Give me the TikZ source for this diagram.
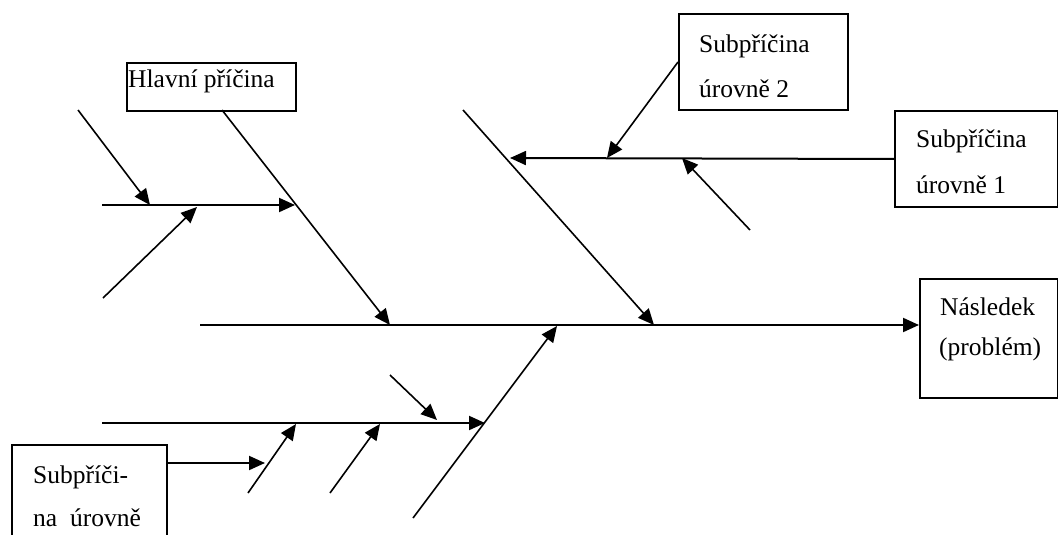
\documentclass[tikz,border=0pt]{standalone}
\usepackage{fontspec}
\setmainfont{Liberation Serif}
\usetikzlibrary{arrows.meta}
\begin{document}
\begin{tikzpicture}[x=1pt,y=-1pt,
  box/.style={draw,line width=2pt,inner sep=0pt,anchor=north west},
  lbl/.style={anchor=base west,inner sep=0pt,font=\fontsize{25.5}{30}\selectfont},
  bone/.style={line width=2pt},
  rib/.style={line width=1.6pt},
  tip/.style={-{Triangle[length=16pt,width=14pt]}}]
\useasboundingbox (0,0) rectangle (1058,535);
\fill[white] (0,0) rectangle (1058,535);

% boxes
\node[box,minimum width=169pt,minimum height=48pt] (hlavni) at (126,62) {};
\node[box,minimum width=169pt,minimum height=96pt] (sub2) at (678,13) {};
\node[box,minimum width=163pt,minimum height=96pt] (sub1) at (894,110) {};
\node[box,minimum width=138pt,minimum height=119pt] (nasl) at (919,278) {};
\node[box,minimum width=155pt,minimum height=110pt] (sub3) at (11,444) {};

% texts
\node[lbl] (thl) at (128,88) {Hlavní příčina};
\node[lbl] (ts2a) at (699,53) {Subpříčina};
\node[lbl] (ts2b) at (699,97) {úrovně 2};
\node[lbl] (ts1a) at (916,147) {Subpříčina};
\node[lbl] (ts1b) at (916,193) {úrovně 1};
\node[lbl] (tna) at (940,315) {Následek};
\node[lbl] (tnb) at (939,355) {(problém)};
\node[lbl] (ts3a) at (33,483) {Subpříči-};
\node[lbl] (ts3b) at (33,526) {na\ \ úrovně};

% points
\coordinate (spine0) at (200,325);
\coordinate (h0) at (222,110);
\coordinate (h1) at (390,325);
\coordinate (a0) at (102,205);
\coordinate (a1) at (295,205);
\coordinate (a2) at (78,110);
\coordinate (a3) at (150,205);
\coordinate (a4) at (103,298);
\coordinate (a5) at (197,207);
\coordinate (u0) at (463,110);
\coordinate (u1) at (654,325);
\coordinate (u2) at (510,158);
\coordinate (u3) at (607,158);
\coordinate (u4) at (750,230);
\coordinate (u5) at (682,158);
\coordinate (l0) at (413,518);
\coordinate (l1) at (557,326);
\coordinate (l2) at (102,423);
\coordinate (l3) at (485,423);
\coordinate (l4) at (390,375);
\coordinate (l5) at (437,420);
\coordinate (l6) at (248,493);
\coordinate (l7) at (296,424);
\coordinate (l8) at (330,493);
\coordinate (l9) at (380,424);
\coordinate (s3) at (166,463);
\coordinate (s4) at (265,463);

% spine and bones
\draw[bone,tip] (spine0) -- (spine0 -| nasl.west);
\draw[rib,tip] (h0) -- (h1);
\draw[bone,tip] (a0) -- (a1);
\draw[rib,tip] (a2) -- (a3);
\draw[rib,tip] (a4) -- (a5);
\draw[rib,tip] (u0) -- (u1);
\draw[bone,tip] (sub1.west) -- (u2);
\draw[rib,tip] (sub2.west) -- (u3);
\draw[rib,tip] (u4) -- (u5);
\draw[rib,tip] (l0) -- (l1);
\draw[bone,tip] (l2) -- (l3);
\draw[rib,tip] (l4) -- (l5);
\draw[rib,tip] (l6) -- (l7);
\draw[rib,tip] (l8) -- (l9);
\draw[bone,tip] (s3) -- (s4);
\end{tikzpicture}
\end{document}
